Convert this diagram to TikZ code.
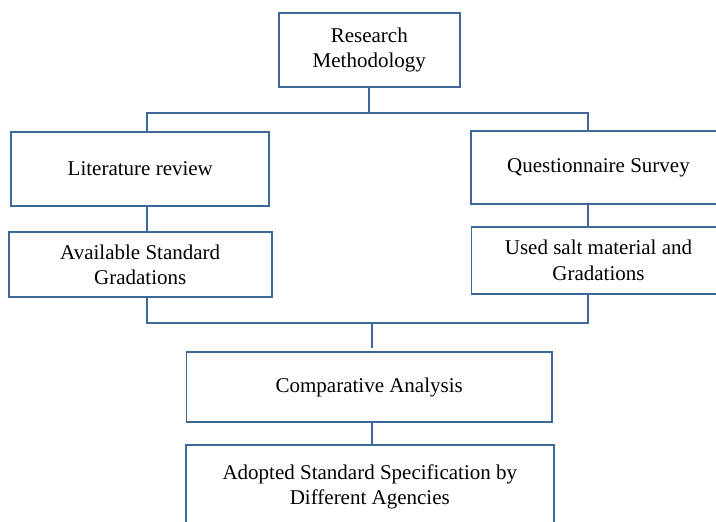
\documentclass[tikz,border=0pt]{standalone}
\usepackage{fontspec}
\setmainfont{Liberation Serif}
\usetikzlibrary{positioning,calc}
\definecolor{ln}{RGB}{62,104,152}
\tikzset{bx/.style={draw=ln,line width=1.7pt,align=center,inner sep=0pt,minimum height=74pt},
 wire/.style={draw=ln,line width=1.7pt},
 every node/.style={font=\fontsize{21}{25.3}\selectfont}}
\begin{document}
\begin{tikzpicture}[x=1pt,y=-1pt]
\useasboundingbox (0,0) rectangle (716,522);\clip (0,0) rectangle (716,522);
\node[bx,minimum width=181pt] (rm) at (369.3,49.7) {Research\\Methodology};
\node[bx,minimum width=258pt] (lit) at (140.3,168.7) {Literature review};
\node[bx,minimum width=255pt,minimum height=73.6pt] (que) at (598.5,167.5) {Questionnaire Survey};
\node[bx,minimum width=263pt,minimum height=65.6pt] (avl) at (140.2,264.5) {Available Standard\\Gradations};
\node[bx,minimum width=254pt,minimum height=67.3pt] (usd) at (598.5,260.3) {Used salt material and\\Gradations};
\node[bx,minimum width=365.7pt,minimum height=70.6pt] (cmp) at (369.2,387) {Comparative Analysis};
\node[bx,minimum width=368.3pt,minimum height=83pt] (adp) at (369.8,486.8) {Adopted Standard Specification by\\Different Agencies};
% bus lines
\coordinate (tl) at (146.7,112.7);\coordinate (tr) at (587.7,112.7);
\coordinate (bl) at (146.7,323.3);\coordinate (br) at (587.7,323.3);\coordinate (bm) at (372.3,323.3);
\draw[wire] (rm.south)--(rm.south |- tl);
\draw[wire] (tl |- lit.north)--(tl)--(tr)--(tr |- que.north);
\draw[wire] (tl |- lit.south)--(tl |- avl.north);\draw[wire] (tr |- que.south)--(tr |- usd.north);
\draw[wire] (bl |- avl.south)--(bl)--(br)--(br |- usd.south);
\draw[wire] (bm)--([yshift=3pt]bm |- cmp.north);\draw[wire] (bm |- cmp.south)--(bm |- adp.north);
\end{tikzpicture}
\end{document}
